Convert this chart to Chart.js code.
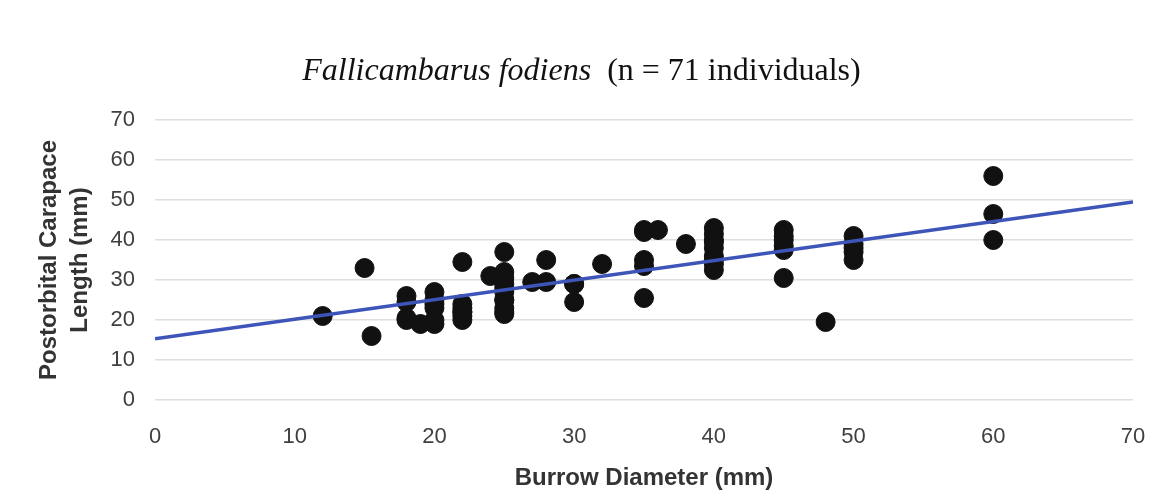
<!DOCTYPE html>
<html>
<head>
<meta charset="utf-8">
<script src="https://cdn.jsdelivr.net/npm/chart.js@4/dist/chart.umd.min.js"></script>
<style>
  body { margin: 0; background: #fff; }
  #wrap { position: relative; width: 1163px; height: 495px; }
  #titre {
    position: absolute; left: 0; top: 51px; width: 1163px; text-align: center;
    font-family: "Liberation Serif", "Times New Roman", serif; font-size: 32px; color: #111;
    line-height: normal;
  }
  #titre i { margin-right: 8px; }
</style>
</head>
<body>
<div id="wrap">
  <canvas id="graph" width="1163" height="495"></canvas>
  <div id="titre"><i>Fallicambarus fodiens</i> (n = 71 individuals)</div>
</div>
<script>
// ---------------- DONNEES ----------------

// diamètre du terrier (mm)
const diametre = [
    12, 15, 15.5, 18, 18, 18, 19,
    20, 20, 20, 20,
    22, 22, 22, 22, 22,
    24, 25, 25, 25, 25, 25, 25, 25, 25,
    27, 28, 28, 30, 30, 32,
    35, 36, 35, 35, 35, 38,
    40, 40, 40, 40, 40, 40, 40,
    45, 45, 45, 45, 45, 48,
    50, 50, 50, 50,
    60, 60, 60,
    25, 25, 20, 22, 40, 40, 35, 18, 25, 30, 45, 50, 20, 22
];

// longueur postorbitale de la carapace (mm)
const carapace = [
    21, 33, 16, 26, 24.5, 20.5, 19,
    27, 25, 23, 19,
    34.5, 24, 22, 21, 20,
    31, 37, 32, 30.5, 29, 27, 25, 23, 21.5,
    29.5, 35, 29.5, 29, 24.5, 34,
    42.5, 42.5, 35, 33.5, 25.5, 39,
    43, 41.5, 39.5, 38, 36, 34, 32.5,
    42.5, 41, 38.5, 37.5, 30.5, 19.5,
    41, 39, 37, 35,
    56, 46.5, 40,
    25, 28, 20, 22, 40, 35, 42, 20, 22, 29, 40, 38, 24, 23
];

// droite de tendance
const tendanceX = [0, 70];
const tendanceY = [15.3, 49.5];

const ticksX = [0, 10, 20, 30, 40, 50, 60, 70];
const ticksY = [0, 10, 20, 30, 40, 50, 60, 70];

// ---------------- GRAPH ----------------
const points = diametre.map((d, i) => ({ x: d, y: carapace[i] }));
const tendance = tendanceX.map((d, i) => ({ x: d, y: tendanceY[i] }));

const police = { family: '"Liberation Sans", Arial, sans-serif', size: 22 };

new Chart(document.getElementById('graph'), {
    type: 'scatter',
    data: {
        datasets: [
            {
                label: 'Tendance',
                data: tendance,
                showLine: true,
                borderColor: '#3d55b8',
                borderWidth: 3.5,
                pointRadius: 0,
                order: 0
            },
            {
                label: 'Individus',
                data: points,
                backgroundColor: '#111',
                borderColor: '#111',
                pointRadius: 9.5,
                order: 1
            }
        ]
    },
    options: {
        responsive: false,
        animation: false,
        layout: { padding: { top: 120, right: 30, left: 0, bottom: 0 } },
        plugins: { legend: { display: false }, tooltip: { enabled: false } },
        scales: {
            x: {
                type: 'linear', min: 0, max: 70,
                afterBuildTicks: (s) => { s.ticks = ticksX.map(v => ({ value: v })); },
                afterFit: (s) => { s.height = 95; s.paddingLeft = 0; s.paddingRight = 0; },
                grid: { display: false, drawTicks: false },
                border: { display: false },
                ticks: { font: police, color: '#404040', padding: 24 },
                title: {
                    display: true, text: 'Burrow Diameter (mm)', color: '#333',
                    font: { family: police.family, size: 24, weight: 'bold' },
                    padding: { bottom: 2 }
                }
            },
            y: {
                min: 0, max: 70,
                afterBuildTicks: (s) => { s.ticks = ticksY.map(v => ({ value: v })); },
                afterFit: (s) => { s.width = 155; },
                grid: { color: '#dedede', lineWidth: 1.5, drawTicks: false },
                border: { display: false },
                ticks: { font: police, color: '#404040', padding: 20 },
                title: {
                    display: true, text: ['Postorbital Carapace', 'Length (mm)'], color: '#333',
                    font: { family: police.family, size: 24, weight: 'bold', lineHeight: 1.3 },
                    padding: { top: 34 }
                }
            }
        }
    }
});
</script>
</body>
</html>
